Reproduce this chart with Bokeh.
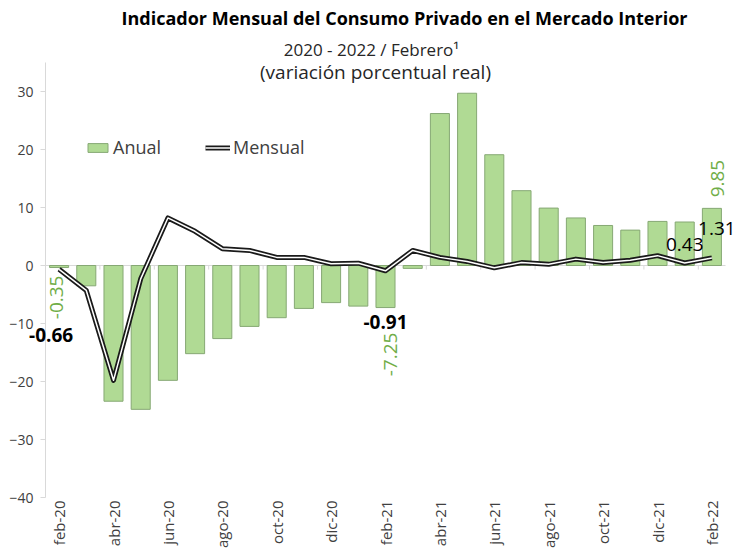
import math
from bokeh.plotting import figure
from bokeh.models import (Range1d, FixedTicker, Label, LabelSet, Legend, LegendItem,
                          ColumnDataSource)
from bokeh.core.properties import value
from bokeh.embed import file_html
from bokeh.resources import INLINE

months = ["feb-20", "mar-20", "abr-20", "may-20", "jun-20", "jul-20", "ago-20", "sep-20",
          "oct-20", "nov-20", "dic-20", "ene-21", "feb-21", "mar-21", "abr-21", "may-21",
          "jun-21", "jul-21", "ago-21", "sep-21", "oct-21", "nov-21", "dic-21", "ene-22", "feb-22"]
anual = [-0.35, -3.5, -23.4, -24.8, -19.8, -15.2, -12.6, -10.5, -9.0, -7.4, -6.4, -7.0, -7.25,
         -0.5, 26.2, 29.7, 19.1, 12.9, 9.9, 8.2, 6.9, 6.1, 7.6, 7.5, 9.85]
mensual = [-0.66, -4.3, -19.8, -2.3, 8.2, 5.9, 2.9, 2.6, 1.4, 1.4, 0.3, 0.4, -0.91, 2.6, 1.4,
           0.7, -0.4, 0.5, 0.2, 1.1, 0.5, 0.9, 1.7, 0.43, 1.31]
y_ticks = [-40, -30, -20, -10, 0, 10, 20, 30]

FONT = "Open Sans"
GREEN_FILL = "#b0da94"
GREEN_LINE = "#86a874"
GREEN_TEXT = "#70ad47"
GREY = "#d9d9d9"
TXT = "#404040"

n = len(months)
idx = list(range(n))
src = ColumnDataSource(dict(x=idx, anual=anual, mensual=mensual))

W, H = 736, 558
PX_X = 27.2          # pixels per category
PX_Y = 5.8           # pixels per unit of %
X0 = -58.6 / PX_X    # left edge of the canvas in category units
Y1 = 265 / PX_Y      # top edge of the canvas in value units
p = figure(width=W, height=H, output_backend="svg", toolbar_location=None,
           x_range=Range1d(X0, X0 + W / PX_X), y_range=Range1d(Y1 - H / PX_Y, Y1),
           min_border_left=0, min_border_right=0, min_border_top=0, min_border_bottom=0)
p.title.visible = False
p.outline_line_color = None
p.xgrid.visible = False
p.ygrid.visible = False
p.xaxis.visible = False

# zero line with category ticks
p.segment(x0=[-0.5], x1=[n - 0.5], y0=[0], y1=[0], line_color=GREY, line_width=1)
tick_x = [i - 0.5 for i in range(0, n + 1, 2)]
p.segment(x0=tick_x, x1=tick_x, y0=[0] * len(tick_x), y1=[-0.7] * len(tick_x),
          line_color=GREY, line_width=1)

bars = p.vbar(x="x", top="anual", bottom=0, width=0.7, source=src,
              fill_color=GREEN_FILL, line_color=GREEN_LINE, line_width=1)
l_out = p.line(x="x", y="mensual", source=src, line_color="#1a1a1a", line_width=5, line_join="round")
l_in = p.line(x="x", y="mensual", source=src, line_color="white", line_width=1.5, line_join="round")

# y axis pinned at the left edge of the first category
yax = p.yaxis[0]
yax.fixed_location = -0.5
yax.ticker = FixedTicker(ticks=y_ticks)
yax.bounds = (-40, 35)
yax.axis_line_color = GREY
yax.major_tick_line_color = GREY
yax.major_tick_out = 5
yax.major_tick_in = 0
yax.minor_tick_line_color = None
yax.major_label_text_font = FONT
yax.major_label_text_font_size = "14px"
yax.major_label_text_color = TXT
yax.major_label_standoff = 7

# category labels (every second month), rotated
lab_idx = list(range(0, n, 2))
xlab_src = ColumnDataSource(dict(x=lab_idx, y=[-40] * len(lab_idx), t=[months[i] for i in lab_idx]))
p.add_layout(LabelSet(x="x", y="y", text="t", source=xlab_src, angle=math.pi / 2,
                      text_align="right", text_baseline="middle", y_offset=-3,
                      text_font=value(FONT), text_font_size=value("15px"),
                      text_color=value(TXT)))


def lab(i, series, text, dx, dy, color, size="19px", bold=False, angle=0.0,
        align="center"):
    p.add_layout(Label(x=i, y=series[i], text=text, x_offset=dx, y_offset=dy, angle=angle,
                       text_align=align, text_baseline="middle", text_font=FONT,
                       text_font_size=size, text_color=color,
                       text_font_style="bold" if bold else "normal"))


# green rotated data labels (anual)
lab(0, anual, f"{anual[0]:.2f}", -3, -8, GREEN_TEXT, angle=math.pi / 2, align="right")
lab(12, anual, f"{anual[12]:.2f}", 5, -25, GREEN_TEXT, angle=math.pi / 2, align="right")
lab(24, anual, f"{anual[24]:.2f}", 6, 11, GREEN_TEXT, angle=math.pi / 2, align="left")

# black data labels (mensual)
lab(0, mensual, f"{mensual[0]:.2f}", -8, -66, "black", bold=True)
lab(12, mensual, f"{mensual[12]:.2f}", 0, -51, "black", bold=True)
lab(23, mensual, f"{mensual[23]:.2f}", 0, 19, "black")
lab(24, mensual, f"{mensual[24]:.2f}", 5, 29, "black")

# titles
mid = (n - 1) // 2
p.add_layout(Label(x=mid, y=42.59, x_offset=19,
                   text="Indicador Mensual del Consumo Privado en el Mercado Interior",
                   text_align="center", text_baseline="middle", text_font=FONT,
                   text_font_size="18px", text_font_style="bold", text_color="black"))
p.add_layout(Label(x=mid, y=37.24, x_offset=-14, text="2020 - 2022 / Febrero¹",
                   text_align="center", text_baseline="middle", text_font=FONT,
                   text_font_size="17px", text_color="#262626"))
p.add_layout(Label(x=mid, y=33.28, x_offset=-10, text="(variación porcentual real)",
                   text_align="center", text_baseline="middle", text_font=FONT,
                   text_font_size="19px", text_color="#262626"))

legend = Legend(items=[LegendItem(label="Anual", renderers=[bars]),
                       LegendItem(label="Mensual", renderers=[l_out, l_in])],
                location=(85, 399), orientation="horizontal", glyph_width=25, glyph_height=11,
                label_standoff=3, spacing=44, padding=0, margin=0,
                label_text_font=FONT, label_text_font_size="18px", label_text_color=TXT,
                border_line_alpha=0, background_fill_alpha=0)
p.add_layout(legend)

open("out.html", "w").write(file_html(p, INLINE))
